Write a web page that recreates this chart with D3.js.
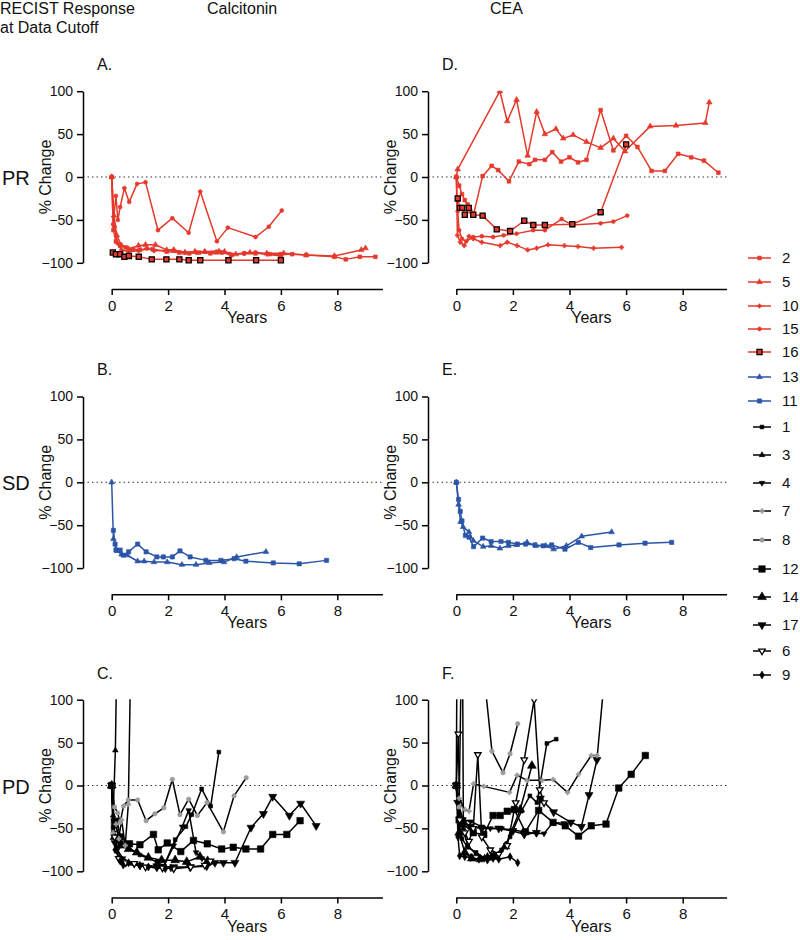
<!DOCTYPE html>
<html>
<head>
<meta charset="utf-8">
<script src="https://cdn.jsdelivr.net/npm/d3@7"></script>
<style>
  body { margin: 0; background: #fff; }
  text { font-family: Arial, "Liberation Sans", sans-serif; fill: #111; }
</style>
</head>
<body>
<svg id="chart" width="800" height="940"></svg>
<script>
// ---- data: [years, % change] per patient ----
var calcitoninPR = [
  {id: "2",  values: [[0,0],[0.06,-62],[0.15,-75],[0.3,-80],[0.5,-82],[0.75,-84],[1.0,-85],[1.45,-84],[1.95,-87],[2.4,-88],[2.75,-89],[3.1,-88],[3.5,-89],[3.9,-88],[4.25,-91],[4.7,-89],[5.1,-89],[5.6,-90],[6.0,-90],[6.4,-90],[6.9,-91],[7.9,-93],[8.3,-96],[8.8,-93],[9.35,-93]]},
  {id: "5",  values: [[0,0],[0.08,-45],[0.18,-68],[0.35,-80],[0.6,-84],[0.95,-80],[1.2,-79],[1.55,-79],[1.95,-85],[2.2,-85],[2.6,-88],[2.95,-87],[3.3,-87],[3.7,-88],[4.0,-87],[4.4,-90],[4.9,-88],[5.5,-89],[6.1,-89],[6.9,-91],[7.9,-92],[8.85,-85],[9.0,-83]]},
  {id: "10", values: [[0,0],[0.1,-58],[0.2,-77],[0.35,-85],[0.6,-87],[0.95,-86],[1.25,-83],[1.5,-86],[2.2,-85],[2.6,-88],[3.0,-88],[3.3,-87],[3.8,-86],[4.2,-90],[4.7,-89],[5.1,-88],[5.5,-90],[6.0,-92]]},
  {id: "15", values: [[0,0],[0.05,-55],[0.15,-22],[0.22,-50],[0.3,-35],[0.45,-13],[0.62,-29],[0.9,-8],[1.2,-6],[1.64,-62],[2.15,-48],[2.73,-65],[3.14,-17],[3.73,-75],[4.12,-59],[5.1,-70],[5.57,-58],[6.03,-39]]},
  {id: "16", values: [[0.04,-88],[0.15,-90],[0.3,-90],[0.45,-93],[0.61,-92],[0.96,-93],[1.42,-96],[1.94,-96],[2.4,-96],[2.73,-97],[3.14,-97],[4.14,-97],[5.12,-97],[6.0,-97]]}
];
var ceaPR = [
  {id: "2",  values: [[0,0],[0.1,-10],[0.2,-20],[0.3,-27],[0.4,-32],[0.5,-40],[0.6,-45],[0.93,1],[1.25,13],[1.48,8],[1.86,-5],[2.21,18],[2.58,15],[2.78,20],[3.13,20],[3.39,29],[3.7,18],[4.0,23],[4.3,17],[4.6,20],[5.1,78],[5.55,31],[6.0,48],[6.4,35],[6.9,7],[7.37,7],[7.84,27],[8.3,23],[8.75,19],[9.26,5]]},
  {id: "5",  values: [[0,0],[0.05,9],[1.54,100],[1.8,65],[2.13,90],[2.52,25],[2.84,76],[3.13,50],[3.52,56],[3.78,45],[4.13,49],[4.6,41],[5.1,34],[5.55,45],[5.96,30],[6.85,59],[7.76,60],[8.8,63],[8.94,87]]},
  {id: "10", values: [[0,0],[0.04,-68],[0.14,-76],[0.28,-80],[0.45,-69],[0.6,-72],[0.9,-76],[1.55,-80],[1.8,-76],[2.15,-80],[2.52,-85],[2.84,-83],[3.24,-79],[3.82,-80],[4.3,-81],[4.85,-83],[5.84,-82]]},
  {id: "15", values: [[0,0],[0.05,-40],[0.1,-62],[0.2,-72],[0.35,-75],[0.6,-70],[0.9,-69],[1.3,-70],[1.67,-68],[2.13,-66],[2.72,-62],[3.13,-62],[3.72,-49],[4.1,-56],[5.1,-54],[5.55,-52],[6.04,-45]]},
  {id: "16", values: [[0.05,-25],[0.13,-36],[0.21,-36],[0.3,-44],[0.44,-36],[0.6,-44],[0.93,-45],[1.43,-61],[1.9,-63],[2.4,-51],[2.72,-56],[3.13,-56],[4.1,-55],[5.1,-41],[6.0,38]]}
];
var calcitoninSD = [
  {id: "13", values: [[0,0],[0.06,-66],[0.2,-80],[0.35,-84],[0.55,-85],[0.92,-92],[1.15,-92],[1.5,-93],[1.97,-93],[2.49,-96],[2.99,-96],[3.46,-94],[3.98,-93],[4.43,-87],[5.47,-81]]},
  {id: "11", values: [[0.06,-56],[0.12,-72],[0.15,-79],[0.3,-79],[0.41,-85],[0.6,-81],[0.92,-72],[1.22,-81],[1.6,-87],[1.83,-87],[2.15,-87],[2.42,-80],[2.78,-87],[3.34,-91],[3.87,-91],[4.34,-89],[4.76,-92],[5.73,-94],[6.65,-95],[7.62,-91]]}
];
var ceaSD = [
  {id: "13", values: [[0,0],[0.08,-26],[0.15,-46],[0.24,-52],[0.45,-58],[0.6,-68],[0.95,-75],[1.23,-74],[1.54,-77],[1.84,-74],[2.13,-73],[2.5,-70],[2.81,-74],[3.16,-74],[3.44,-78],[3.89,-74],[4.43,-63],[5.49,-58]]},
  {id: "11", values: [[0,0],[0.08,-20],[0.14,-34],[0.2,-45],[0.32,-62],[0.45,-64],[0.61,-75],[0.93,-65],[1.23,-69],[1.58,-69],[1.84,-70],[2.16,-72],[2.45,-72],[2.78,-73],[3.07,-74],[3.37,-73],[3.84,-78],[4.31,-70],[4.75,-76],[5.75,-73],[6.67,-71],[7.61,-70]]}
];
var calcitoninPD = [
  {id: "12", values: [[0,0],[0.1,-45],[0.3,-60],[0.63,-68],[1.0,-69],[1.48,-57],[1.65,-75],[1.97,-67],[2.45,-77],[2.9,-64],[3.39,-68],[3.9,-74],[4.31,-72],[4.76,-74],[5.28,-74],[5.71,-57],[6.21,-57],[6.68,-41]]},
  {id: "1",  values: [[0,0],[0.05,-50],[0.18,-40],[0.35,-67],[1.0,-81],[1.6,-89],[1.85,-94],[2.25,-63],[2.63,-48],[2.84,-34],[3.19,-4],[3.51,-24],[3.8,39]]},
  {id: "3",  values: [[0,0],[0.05,-35],[0.13,41],[0.25,300]]},
  {id: "14", values: [[0,0],[0.1,-60],[0.3,-70],[0.6,-74],[0.89,-78],[1.3,-84],[1.77,-87],[2.25,-87],[2.66,-89],[3.13,-83],[3.4,-88]]},
  {id: "17", values: [[0,0],[0.12,-67],[0.41,-92],[1.0,-93],[1.6,-94],[2.2,-95],[2.78,-95],[3.37,-94],[3.66,-90],[3.96,-90],[4.37,-90],[4.94,-49],[5.38,-33],[5.71,-13],[6.3,-35],[6.7,-21],[7.25,-47]]},
  {id: "4",  values: [[0,0],[0.08,-55],[0.2,-75],[0.4,-85],[0.8,-92],[1.3,-95],[1.6,-96],[1.85,-94],[2.2,-70],[2.5,-48],[2.73,-29],[2.99,-78],[3.2,-85],[3.5,-88]]},
  {id: "7",  values: [[0,0],[0.05,-55],[0.15,-45],[0.25,-62],[0.35,-40],[0.48,-70],[0.59,-22],[0.75,300]]},
  {id: "8",  values: [[0,0],[0.1,-25],[0.21,-32],[0.3,-43],[0.42,-24],[0.59,-17],[0.92,-17],[1.22,-41],[1.53,-33],[1.85,-26],[2.15,7],[2.42,-34],[2.73,-16],[3.04,-35],[3.38,-20],[3.96,-54],[4.34,-12],[4.77,9]]},
  {id: "6",  values: [[0,0],[0.1,-60],[0.25,-85],[0.5,-90],[0.8,-91],[1.2,-95],[1.8,-96],[2.2,-97],[2.8,-95],[3.3,-93],[3.5,-88]]},
  {id: "9",  values: [[0,0],[0.05,-40],[0.12,-75],[0.3,-88],[0.6,-90],[1.0,-93],[1.3,-95],[1.6,-96],[1.9,-97],[2.1,-96]]}
];
var ceaPD = [
  {id: "12", values: [[0,0],[0.1,-40],[0.24,-45],[0.6,-55],[0.97,-57],[1.3,-35],[1.55,-35],[1.8,-30],[2.05,-28],[2.44,-54],[2.91,-29],[3.42,-43],[3.85,-47],[4.32,-59],[4.77,-47],[5.29,-45],[5.74,-3],[6.18,13],[6.68,35]]},
  {id: "1",  values: [[0,0],[0.08,-40],[0.2,-62],[0.4,-72],[0.7,-78],[1.0,-85],[1.3,-84],[1.6,-75],[1.9,-60],[2.3,-30],[2.6,-12],[2.85,-20],[3.2,49],[3.53,54]]},
  {id: "3",  values: [[0,0],[0.03,200],[0.2,300],[0.25,-50],[0.4,-70],[0.7,-80],[1.0,-84],[1.24,-82]]},
  {id: "14", values: [[0,0],[0.1,-55],[0.3,-78],[0.55,-85],[0.85,-86],[1.1,-84],[1.32,-82],[1.73,-71],[2.26,-28],[2.67,23]]},
  {id: "17", values: [[0,0],[0.05,-20],[0.2,-40],[0.5,-48],[0.9,-50],[1.5,-50],[2.0,-53],[2.4,-57],[2.83,-55],[2.97,-15],[3.44,-31],[4.05,-43],[4.42,-48],[4.69,-11],[4.97,30],[5.3,150]]},
  {id: "4",  values: [[0,0],[0.1,-25],[0.25,-40],[0.5,-42],[0.9,-48],[1.2,-50],[1.6,-50],[2.0,-52],[2.4,-54],[2.83,-56],[3.1,-56],[3.42,-43],[3.8,-44]]},
  {id: "7",  values: [[0,0],[0.1,-15],[0.3,-28],[0.45,-30],[0.61,2],[0.97,-1],[1.88,-8],[2.15,12],[2.5,6],[3.03,6],[3.42,7],[3.93,-8],[4.32,13],[4.77,35],[4.97,35]]},
  {id: "8",  values: [[0,0],[0.1,-25],[0.2,200],[0.6,250],[1.26,40],[1.65,15],[1.9,37],[2.17,72]]},
  {id: "6",  values: [[0,0],[0.07,60],[0.12,-40],[0.3,-55],[0.45,-65],[0.6,-50],[0.76,36],[0.9,-60],[1.2,-75],[1.5,-80],[1.8,-70],[2.1,-20],[2.4,30],[2.75,100],[2.95,-5],[3.1,-20]]},
  {id: "9",  values: [[0,0],[0.06,-60],[0.12,-82],[0.3,-83],[0.5,-84],[0.8,-86],[1.1,-87],[1.3,-85],[1.5,-86],[1.9,-83],[2.17,-90]]}
];
var legendIds = ["2","5","10","15","16","13","11","1","3","4","7","8","12","14","17","6","9"];
var yTicks = [-100, -50, 0, 50, 100];
var xTicks = [0, 2, 4, 6, 8];

// ---- styles ----
var red = "#e5392b", blue = "#2c55a8", gray = "#9b9b9b";
var style = {
  "2":  {line: red,  fill: red,  stroke: red,  sym: d3.symbolSquare,   size: 14},
  "5":  {line: red,  fill: red,  stroke: red,  sym: d3.symbolTriangle, size: 14},
  "10": {line: red,  fill: red,  stroke: red,  sym: d3.symbolCross,    size: 10},
  "15": {line: red,  fill: red,  stroke: red,  sym: d3.symbolCircle,   size: 12},
  "16": {line: red,  fill: red,  stroke: "#000", sym: d3.symbolSquare, size: 26},
  "13": {line: blue, fill: blue, stroke: blue, sym: d3.symbolTriangle, size: 14},
  "11": {line: blue, fill: blue, stroke: blue, sym: d3.symbolSquare,   size: 18},
  "1":  {line: "#000", fill: "#000", stroke: "#000", sym: d3.symbolSquare,   size: 14},
  "3":  {line: "#000", fill: "#000", stroke: "#000", sym: d3.symbolTriangle, size: 14},
  "4":  {line: "#000", fill: "#000", stroke: "#000", sym: d3.symbolTriangle, size: 14, flip: true},
  "7":  {line: "#000", fill: gray, stroke: gray, sym: d3.symbolCross,   size: 12},
  "8":  {line: "#000", fill: gray, stroke: gray, sym: d3.symbolCircle,  size: 16},
  "12": {line: "#000", fill: "#000", stroke: "#000", sym: d3.symbolSquare,   size: 42},
  "14": {line: "#000", fill: "#000", stroke: "#000", sym: d3.symbolTriangle, size: 34},
  "17": {line: "#000", fill: "#000", stroke: "#000", sym: d3.symbolTriangle, size: 28, flip: true},
  "6":  {line: "#000", fill: "#fff", stroke: "#000", sym: d3.symbolTriangle, size: 18, flip: true},
  "9":  {line: "#000", fill: "#000", stroke: "#000", sym: d3.symbolDiamond,  size: 18}
};

// ---- layout ----
var cols = [{axisX: 83, x0: 111.7, maxYr: 9.6, pxYr: 28.2, letterX: 97, labelX: 45},
            {axisX: 428, x0: 456.3, maxYr: 9.55, pxYr: 28.3, letterX: 442, labelX: 390}];
var rows = [{zero: 177, name: "PR"}, {zero: 482.3, name: "SD"}, {zero: 785.5, name: "PD"}];
var half = 85.8, axisDrop = 112;
var legendRowY = [258,282,306,329,352,377,401,427,455,483,511,540,569,597,625,651,675];

var svg = d3.select("#chart");

function marker(g, id, x, y) {
  var s = style[id];
  g.append("path")
    .attr("d", d3.symbol().type(s.sym).size(s.size)())
    .attr("transform", "translate(" + x + "," + y + ")" + (s.flip ? " rotate(180)" : ""))
    .attr("fill", s.fill)
    .attr("stroke", s.stroke)
    .attr("stroke-width", id === "16" || id === "6" ? 1.3 : 0.6);
}

function panel(data, ci, ri, letter) {
  var c = cols[ci], r = rows[ri];
  var x = d3.scaleLinear().domain([0, c.maxYr]).range([c.x0, c.x0 + c.maxYr * c.pxYr]);
  var y = d3.scaleLinear().domain([-100, 100]).range([r.zero + half, r.zero - half]);
  var axisY = r.zero + axisDrop;
  var g = svg.append("g");
  var clipId = "clip" + ci + ri;

  g.append("clipPath").attr("id", clipId).append("rect")
    .attr("x", c.x0 - 6).attr("y", y(100) - 0.5)
    .attr("width", x.range()[1] - c.x0 + 12).attr("height", axisY - y(100));

  // zero reference
  g.append("line")
    .attr("x1", c.axisX).attr("x2", x.range()[1])
    .attr("y1", y(0)).attr("y2", y(0))
    .attr("stroke", "#333").attr("stroke-width", 1.1)
    .attr("stroke-dasharray", "1.5,3");

  var ya = g.append("g")
    .attr("transform", "translate(" + c.axisX + ",0)")
    .call(d3.axisLeft(y).tickValues(yTicks).tickSize(6).tickSizeOuter(0).tickPadding(4));
  var xa = g.append("g")
    .attr("transform", "translate(0," + axisY + ")")
    .call(d3.axisBottom(x).tickValues(xTicks).tickSize(6).tickSizeOuter(0).tickPadding(5));
  [ya, xa].forEach(function(a) {
    a.selectAll("path, line").attr("stroke", "#000").attr("stroke-width", 1.5);
    a.selectAll("text").attr("font-size", a === xa ? 15 : 14).attr("fill", "#111")
      .style("font-family", "Arial, 'Liberation Sans', sans-serif");
  });

  g.append("text")
    .attr("transform", "translate(" + c.labelX + "," + r.zero + ") rotate(-90)")
    .attr("text-anchor", "middle").attr("dy", "0.35em")
    .attr("font-size", 16).text("% Change");
  g.append("text")
    .attr("x", (x.range()[0] + x.range()[1]) / 2).attr("y", axisY + 34)
    .attr("text-anchor", "middle").attr("font-size", 16).text("Years");
  g.append("text")
    .attr("x", c.letterX).attr("y", r.zero - 107)
    .attr("font-size", 16).text(letter);

  var line = d3.line().x(function(d) { return x(d[0]); }).y(function(d) { return y(d[1]); });
  var plot = g.append("g").attr("clip-path", "url(#" + clipId + ")");
  data.forEach(function(s) {
    plot.append("path")
      .datum(s.values)
      .attr("d", line)
      .attr("fill", "none")
      .attr("stroke", style[s.id].line)
      .attr("stroke-width", 1.5)
      .attr("stroke-linejoin", "round");
  });
  data.forEach(function(s) {
    s.values.forEach(function(d) { marker(plot, s.id, x(d[0]), y(d[1])); });
  });
}

panel(calcitoninPR, 0, 0, "A.");
panel(calcitoninSD, 0, 1, "B.");
panel(calcitoninPD, 0, 2, "C.");
panel(ceaPR, 1, 0, "D.");
panel(ceaSD, 1, 1, "E.");
panel(ceaPD, 1, 2, "F.");

// row labels and headers
rows.forEach(function(r) {
  svg.append("text").attr("x", 2).attr("y", r.zero + 8).attr("font-size", 20).text(r.name);
});
svg.append("text").attr("x", 0).attr("y", 14).attr("font-size", 16).text("RECIST Response");
svg.append("text").attr("x", 0).attr("y", 33).attr("font-size", 16).text("at Data Cutoff");
svg.append("text").attr("x", 207).attr("y", 14).attr("font-size", 16).text("Calcitonin");
svg.append("text").attr("x", 490).attr("y", 14).attr("font-size", 16).text("CEA");

// legend
var leg = svg.append("g");
legendIds.forEach(function(id, i) {
  var s = style[id], ly = legendRowY[i];
  var x1 = (s.line === "#000") ? 753 : 748;
  leg.append("line").attr("x1", x1).attr("x2", 771).attr("y1", ly).attr("y2", ly)
    .attr("stroke", s.line).attr("stroke-width", 1.5);
  marker(leg, id, (x1 + 771) / 2, ly);
  leg.append("text").attr("x", 782).attr("y", ly).attr("dy", "0.35em")
    .attr("font-size", 15).text(id);
});
</script>
</body>
</html>
